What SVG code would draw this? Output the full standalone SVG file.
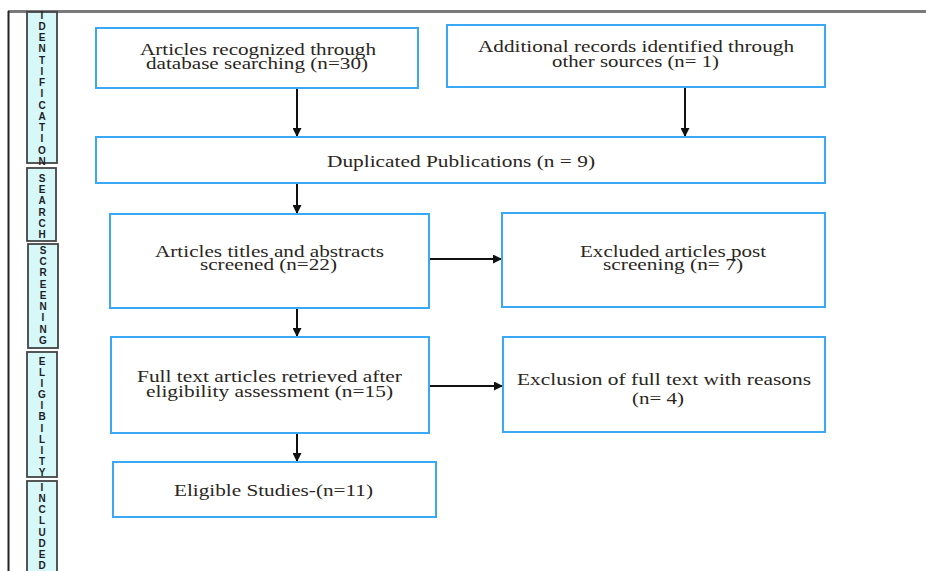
<svg xmlns="http://www.w3.org/2000/svg" width="926" height="571" viewBox="0 0 926 571">
<style>
.box{fill:#fff;stroke:#3aa9f5;stroke-width:2}
.bar{fill:#d6f8f8;stroke:#444;stroke-width:1.8}
.lt{font-family:"Liberation Sans",Arial,sans-serif;font-weight:bold;font-size:10px;fill:#1e1e2a;text-anchor:middle}
.t{font-family:"Liberation Serif","Times New Roman",serif;font-size:17px;fill:#2a2622;text-anchor:middle}
.c{stroke:#111;stroke-width:2;fill:none}
</style>
<defs>
<marker id="ah" viewBox="0 0 10 10" refX="10" refY="5" markerWidth="4.5" markerHeight="4.5" orient="auto" markerUnits="strokeWidth">
<path d="M0,0 L10,5 L0,10 z" fill="#111"/>
</marker>
</defs>
<rect width="926" height="571" fill="#fff"/>
<g id="frame">
<line x1="8" y1="11.5" x2="926" y2="11.5" stroke="#7a7a7a" stroke-width="3"/>
<line x1="8.5" y1="11" x2="8.5" y2="571" stroke="#222" stroke-width="2"/>
</g>
<g id="sidebars">
<g id="bar-identification">
<rect class="bar" x="27" y="12" width="30" height="151"/>
<text class="lt"><tspan x="42" y="19">I</tspan><tspan x="42" y="30">D</tspan><tspan x="42" y="41">E</tspan><tspan x="42" y="52">N</tspan><tspan x="42" y="64">T</tspan><tspan x="42" y="75">I</tspan><tspan x="42" y="86">F</tspan><tspan x="42" y="97">I</tspan><tspan x="42" y="109">C</tspan><tspan x="42" y="120">A</tspan><tspan x="42" y="131">T</tspan><tspan x="42" y="142">I</tspan><tspan x="42" y="154">O</tspan><tspan x="42" y="165">N</tspan></text>
</g>
<g id="bar-search">
<rect class="bar" x="27" y="168" width="29" height="73"/>
<text class="lt"><tspan x="42" y="182">S</tspan><tspan x="42" y="193">E</tspan><tspan x="42" y="204">A</tspan><tspan x="42" y="216">R</tspan><tspan x="42" y="227">C</tspan><tspan x="42" y="238">H</tspan></text>
</g>
<g id="bar-screening">
<rect class="bar" x="28" y="244" width="30" height="104"/>
<text class="lt"><tspan x="43" y="254">S</tspan><tspan x="43" y="265">C</tspan><tspan x="43" y="276">R</tspan><tspan x="43" y="288">E</tspan><tspan x="43" y="299">E</tspan><tspan x="43" y="310">N</tspan><tspan x="43" y="321">I</tspan><tspan x="43" y="333">N</tspan><tspan x="43" y="344">G</tspan></text>
</g>
<g id="bar-eligibility">
<rect class="bar" x="27" y="352" width="30" height="125"/>
<text class="lt"><tspan x="42" y="365">E</tspan><tspan x="42" y="376">L</tspan><tspan x="42" y="387">I</tspan><tspan x="42" y="398">G</tspan><tspan x="42" y="409">I</tspan><tspan x="42" y="420">B</tspan><tspan x="42" y="432">I</tspan><tspan x="42" y="443">L</tspan><tspan x="42" y="454">I</tspan><tspan x="42" y="465">T</tspan><tspan x="42" y="476">Y</tspan></text>
</g>
<g id="bar-included">
<rect class="bar" x="27" y="481" width="30" height="95"/>
<text class="lt"><tspan x="42" y="491">I</tspan><tspan x="42" y="502">N</tspan><tspan x="42" y="513">C</tspan><tspan x="42" y="524">L</tspan><tspan x="42" y="536">U</tspan><tspan x="42" y="547">D</tspan><tspan x="42" y="558">E</tspan><tspan x="42" y="569">D</tspan></text>
</g>
</g>
<g id="connectors">
<line class="c" x1="297" y1="89" x2="297" y2="137" marker-end="url(#ah)"/>
<line class="c" x1="685" y1="88" x2="685" y2="137" marker-end="url(#ah)"/>
<line class="c" x1="297" y1="184" x2="297" y2="214" marker-end="url(#ah)"/>
<line class="c" x1="430" y1="259" x2="502" y2="259" marker-end="url(#ah)"/>
<line class="c" x1="297" y1="309" x2="297" y2="337" marker-end="url(#ah)"/>
<line class="c" x1="430" y1="386" x2="503" y2="386" marker-end="url(#ah)"/>
<line class="c" x1="297" y1="434" x2="297" y2="462" marker-end="url(#ah)"/>
</g>
<g id="n1">
<rect class="box" x="96" y="28" width="322" height="60"/>
<text class="t" x="258" y="55" textLength="236" lengthAdjust="spacingAndGlyphs">Articles recognized through</text>
<text class="t" x="257" y="69" textLength="222" lengthAdjust="spacingAndGlyphs">database searching (n=30)</text>
</g>
<g id="n2">
<rect class="box" x="447" y="25" width="378" height="62"/>
<text class="t" x="636" y="52" textLength="316" lengthAdjust="spacingAndGlyphs">Additional records identified through</text>
<text class="t" x="635.5" y="67" textLength="167" lengthAdjust="spacingAndGlyphs">other sources (n= 1)</text>
</g>
<g id="n3">
<rect class="box" x="96" y="137" width="729" height="46"/>
<text class="t" x="461" y="167" textLength="268" lengthAdjust="spacingAndGlyphs">Duplicated Publications (n = 9)</text>
</g>
<g id="n4">
<rect class="box" x="110" y="214" width="319" height="94"/>
<text class="t" x="269.5" y="257" textLength="229" lengthAdjust="spacingAndGlyphs">Articles titles and abstracts</text>
<text class="t" x="268.5" y="270" textLength="137" lengthAdjust="spacingAndGlyphs">screened (n=22)</text>
</g>
<g id="n5">
<rect class="box" x="502" y="213" width="323" height="94"/>
<text class="t" x="673" y="257" textLength="186" lengthAdjust="spacingAndGlyphs">Excluded articles post</text>
<text class="t" x="673" y="270" textLength="140" lengthAdjust="spacingAndGlyphs">screening (n= 7)</text>
</g>
<g id="n6">
<rect class="box" x="111" y="337" width="318" height="96"/>
<text class="t" x="269.5" y="382" textLength="265" lengthAdjust="spacingAndGlyphs">Full text articles retrieved after</text>
<text class="t" x="269.5" y="397" textLength="247" lengthAdjust="spacingAndGlyphs">eligibility assessment (n=15)</text>
</g>
<g id="n7">
<rect class="box" x="113" y="462" width="323" height="55"/>
<text class="t" x="273.5" y="496" textLength="199" lengthAdjust="spacingAndGlyphs">Eligible Studies-(n=11)</text>
</g>
<g id="n8">
<rect class="box" x="503" y="337" width="322" height="95"/>
<text class="t" x="664" y="385" textLength="294" lengthAdjust="spacingAndGlyphs">Exclusion of full text with reasons</text>
<text class="t" x="658" y="404" textLength="52" lengthAdjust="spacingAndGlyphs">(n= 4)</text>
</g>
</svg>
